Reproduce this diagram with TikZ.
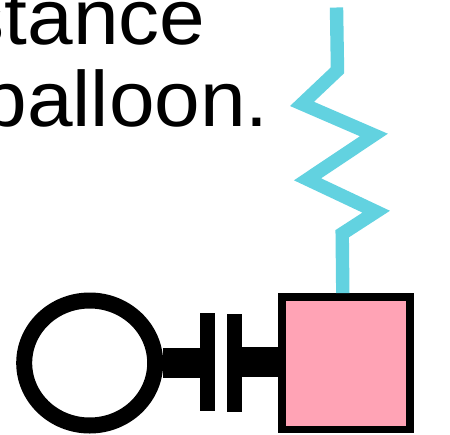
\documentclass[tikz,border=0pt]{standalone}
\usepackage{fontspec}
\setmainfont{Liberation Sans}
\usetikzlibrary{shapes.geometric}
\definecolor{springcyan}{HTML}{62D2E0}
\definecolor{padpink}{HTML}{FFA3B5}
\tikzset{
  bigtext/.style={anchor=base west,inner sep=0pt,xscale=1.045,transform shape,font=\fontsize{78.5}{78.5}\selectfont},
  plate/.style={fill=black,inner sep=0pt,minimum width=15pt,minimum height=98pt},
  wire/.style={line width=29.5pt,black},
}
\begin{document}
\begin{tikzpicture}[x=1pt,y=-1pt]
  \useasboundingbox (0,0) rectangle (450,434);
  \node[bigtext] (lineone) at (-36.5,44) {stance};
  \node[bigtext] (linetwo) at (-18.7,126.5) {balloon.};
  % pad and balloon
  \node[draw=black,fill=padpink,line width=7.7pt,inner sep=0pt,
    minimum width=128pt,minimum height=132.5pt] (pad) at (345.7,363.2) {};
  \node[draw=black,fill=white,ellipse,line width=16pt,inner sep=0pt,
    minimum width=131pt,minimum height=125pt] (balloon) at (89.7,363) {};
  \node[plate] (plateleft) at (207.5,362) {};
  \node[plate] (plateright) at (234.5,363) {};
  \draw[wire] (balloon.east) -- (plateleft.west |- balloon.east);
  \draw[wire] (plateright.east |- 0,362) -- (pad.west |- 0,362);
  % spring
  \coordinate (springtop) at (336.5,7.5);
  \draw[springcyan,line width=13.4pt,miter limit=10] (springtop) -- (337.5,70.3) -- (302,103.9)
    -- (373.9,135) -- (307.5,179.3) -- (376.2,211.7) -- (342.2,233.7)
    -- ([xshift=-2.9pt]pad.north);
\end{tikzpicture}
\end{document}
